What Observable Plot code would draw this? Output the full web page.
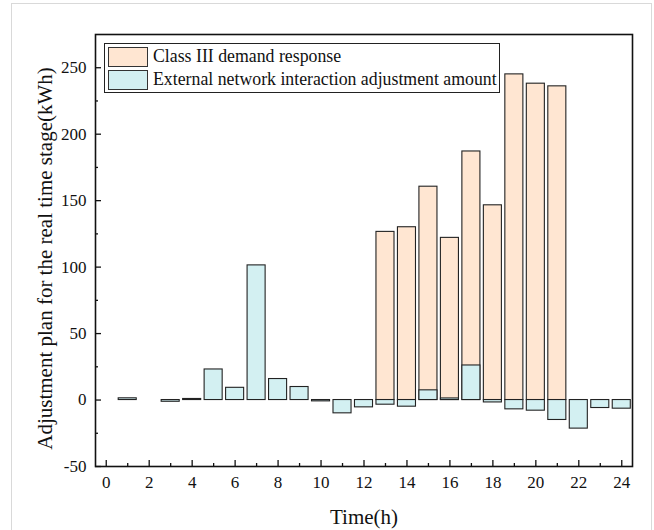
<!DOCTYPE html>
<html>
<head>
<meta charset="utf-8">
<script src="https://cdn.jsdelivr.net/npm/d3@7"></script>
<script src="https://cdn.jsdelivr.net/npm/@observablehq/plot@0.6"></script>
<style>
  html, body { margin: 0; padding: 0; background: #fff; }
  #wrap { position: relative; width: 654px; height: 530px; overflow: hidden; }
  #card { position: absolute; left: 11px; top: 3px; width: 641px; height: 540px; border: 1px solid #d9d9d9; box-sizing: border-box; }
  #chart { position: absolute; left: 0; top: 0; }
  #chart svg text { font-family: "Liberation Serif", "Times New Roman", serif; }
  #legend { position: absolute; left: 104px; top: 43px; border: 1px solid #222; padding: 1px 2px 1px 3px; background: #fff;
            font-family: "Liberation Serif", "Times New Roman", serif; font-size: 17.8px; color: #111; }
  .li { display: flex; align-items: center; height: 23px; }
  .sw { width: 40px; height: 20px; border: 1px solid #333; margin-right: 5px; box-sizing: border-box; }
</style>
</head>
<body>
<div id="wrap">
  <div id="card"></div>
  <div id="chart"></div>
  <div id="legend"></div>
</div>
<script>
const hours = [1,2,3,4,5,6,7,8,9,10,11,12,13,14,15,16,17,18,19,20,21,22,23,24];
const classIII = [0,0,0,0,0,0,0,0,0,0,0,0,126.5,130,160.5,122,187,146.5,245,238,236,0,0,0];
const external = [1.3,0,-1.3,0.8,23,9.2,101.3,15.8,9.8,-1,-10,-5.5,-3.5,-5,7.3,1.2,26,-1.8,-7,-8,-15,-21.5,-6,-6.5];
const xMajorTicks = [0,2,4,6,8,10,12,14,16,18,20,22,24];
const xMinorTicks = [1,3,5,7,9,11,13,15,17,19,21,23];
const yMajorTicks = [-50,0,50,100,150,200,250];
const yMinorTicks = [-25,25,75,125,175,225];
const seriesNames = ["Class III demand response", "External network interaction adjustment amount"];
const seriesColors = ["#FFE6D2", "#D3F0F2"];

const orangeData = hours.map((h, i) => ({h, v: classIII[i]})).filter(d => d.v !== 0);
const blueData = hours.map((h, i) => ({h, v: external[i]})).filter(d => d.v !== 0);
const bw = 0.42;
const font = '"Liberation Serif", "Times New Roman", serif';

const chart = Plot.plot({
  width: 654,
  height: 530,
  marginLeft: 95,
  marginRight: 22,
  marginTop: 34,
  marginBottom: 64,
  style: {fontFamily: font, fontSize: "17px", color: "#111", background: "transparent"},
  x: {domain: [-0.5, 24.5]},
  y: {domain: [-50, 275]},
  marks: [
    Plot.rectY(orangeData, {x1: d => d.h - bw, x2: d => d.h + bw, y1: 0, y2: "v", fill: seriesColors[0], stroke: "#222", strokeWidth: 1.1}),
    Plot.rectY(blueData, {x1: d => d.h - bw, x2: d => d.h + bw, y1: 0, y2: "v", fill: seriesColors[1], stroke: "#222", strokeWidth: 1.1}),
    Plot.axisX(xMajorTicks, {tickSize: -6, text: null, label: null, stroke: "#111", strokeWidth: 1.3}),
    Plot.axisX(xMinorTicks, {tickSize: -3, text: null, label: null, stroke: "#111", strokeWidth: 1.3}),
    Plot.axisY(yMajorTicks, {tickSize: -6, text: null, label: null, stroke: "#111", strokeWidth: 1.3}),
    Plot.axisY(yMinorTicks, {tickSize: -3, text: null, label: null, stroke: "#111", strokeWidth: 1.3}),
    Plot.text(xMajorTicks, {x: d => d, frameAnchor: "bottom", lineAnchor: "top", dy: 9, text: d => String(d), fontSize: 17, fontFamily: font, fill: "#111"}),
    Plot.text(yMajorTicks, {y: d => d, frameAnchor: "left", textAnchor: "end", dx: -9, text: d => String(d), fontSize: 17, fontFamily: font, fill: "#111"}),
    Plot.frame({stroke: "#111", strokeWidth: 1.6}),
    Plot.text(["Time(h)"], {frameAnchor: "bottom", dy: 57, fontSize: 21, fill: "#111", fontFamily: font}),
    Plot.text(["Adjustment plan for the real time stage(kWh)"], {frameAnchor: "left", textAnchor: "middle", dx: -50, dy: 8, rotate: -90, fontSize: 21, fill: "#111", fontFamily: font})
  ]
});
document.getElementById("chart").appendChild(chart);

const legend = document.getElementById("legend");
seriesNames.forEach((name, i) => {
  const row = document.createElement("div");
  row.className = "li";
  const sw = document.createElement("div");
  sw.className = "sw";
  sw.style.background = seriesColors[i];
  const t = document.createElement("span");
  t.textContent = name;
  row.appendChild(sw);
  row.appendChild(t);
  legend.appendChild(row);
});
</script>
</body>
</html>
